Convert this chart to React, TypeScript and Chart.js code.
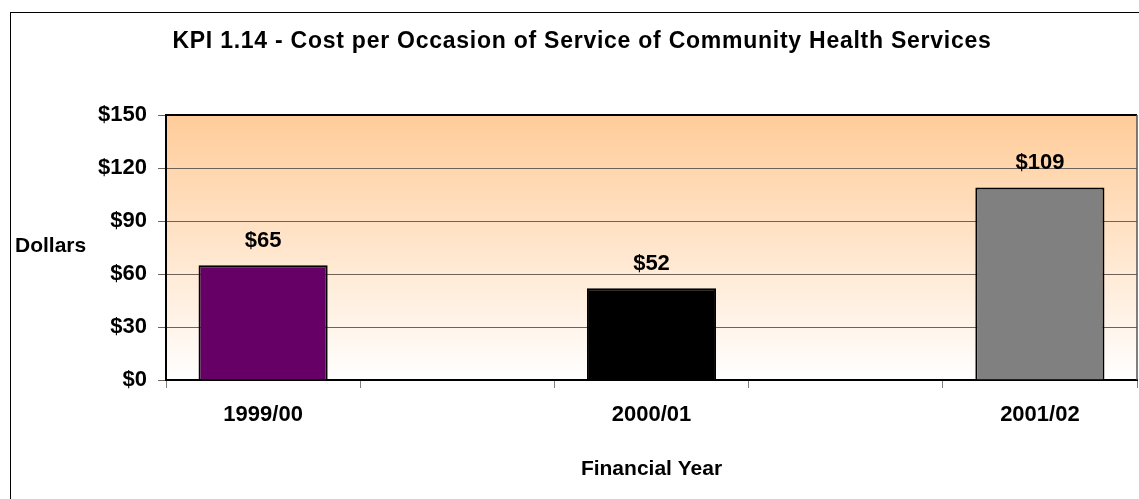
import React, { useEffect, useRef } from "react";
import { Chart, registerables } from "chart.js";

Chart.register(...registerables);

const categories = ["1999/00", "", "2000/01", "", "2001/02"];
const costValues = [65, null, 52, null, 109];
const barColors = ["#660066", "#000000", "#000000", "#000000", "#808080"];
const yTicks = [0, 30, 60, 90, 120, 150];

const TITLE = "KPI 1.14 - Cost per Occasion of Service of Community Health Services";
const FONT = "'Liberation Sans', Arial, sans-serif";

const decorPlugin = {
  id: "decor",
  beforeDraw(chart: any) {
    const { ctx, chartArea } = chart;
    const { left, top, right, bottom } = chartArea;
    ctx.save();
    ctx.fillStyle = "#ffffff";
    ctx.fillRect(0, 0, chart.width, chart.height);
    const g = ctx.createLinearGradient(0, top, 0, bottom);
    g.addColorStop(0, "#ffcc99");
    g.addColorStop(1, "#ffffff");
    ctx.fillStyle = g;
    ctx.fillRect(left, top, right - left, bottom - top);
    ctx.strokeStyle = "#000000";
    ctx.lineWidth = 1;
    ctx.strokeRect(10.5, 12.5, 1400, 800);
    ctx.restore();
  },
  afterDraw(chart: any) {
    const { ctx, chartArea } = chart;
    const { left, top, right, bottom } = chartArea;
    ctx.save();
    ctx.strokeStyle = "#000000";
    ctx.lineWidth = 2;
    ctx.beginPath();
    ctx.moveTo(left, top);
    ctx.lineTo(right, top);
    ctx.stroke();
    ctx.strokeStyle = "#555555";
    ctx.lineWidth = 1.5;
    ctx.beginPath();
    ctx.moveTo(right, top);
    ctx.lineTo(right, bottom);
    ctx.stroke();

    ctx.fillStyle = "#000000";
    ctx.font = `bold 23px ${FONT}`;
    ctx.textAlign = "center";
    ctx.textBaseline = "alphabetic";
    (ctx as any).letterSpacing = "0.75px";
    ctx.fillText(TITLE, 582, 48);
    (ctx as any).letterSpacing = "0px";

    ctx.font = `bold 21px ${FONT}`;
    ctx.textAlign = "left";
    ctx.fillText("Dollars", 15, 252);

    ctx.textAlign = "center";
    ctx.fillText("Financial Year", (left + right) / 2, 475);

    ctx.font = `bold 22px ${FONT}`;
    const meta = chart.getDatasetMeta(0);
    meta.data.forEach((bar: any, i: number) => {
      const v = costValues[i];
      if (v == null) return;
      ctx.fillText("$" + v, bar.x, bar.y - 18);
    });
    ctx.restore();
  },
};

export default function App() {
  const ref = useRef<HTMLCanvasElement | null>(null);
  useEffect(() => {
    if (!ref.current) return;
    const chart = new Chart(ref.current, {
      type: "bar",
      data: {
        labels: categories,
        datasets: [
          {
            data: costValues as any,
            backgroundColor: barColors,
            borderColor: "#000000",
            borderWidth: 2,
            categoryPercentage: 1,
            barPercentage: 0.665,
          },
        ],
      },
      options: {
        responsive: false,
        animation: false,
        layout: { padding: { top: 115, right: 2, left: 0, bottom: 0 } },
        plugins: {
          legend: { display: false },
          title: { display: false },
          tooltip: { enabled: false },
        },
        scales: {
          x: {
            offset: true,
            grid: {
              offset: true,
              drawOnChartArea: false,
              drawTicks: true,
              tickLength: 8,
              color: "#808080",
            },
            border: { color: "#000000", width: 2 },
            ticks: {
              color: "#000000",
              font: { family: FONT, size: 22, weight: "bold" },
              padding: 14,
              maxRotation: 0,
              autoSkip: false,
            },
            afterFit(scale: any) {
              scale.height = 119;
            },
          },
          y: {
            min: 0,
            max: 150,
            afterBuildTicks(scale: any) {
              scale.ticks = yTicks.map((v) => ({ value: v }));
            },
            grid: {
              color: "#6e6258",
              tickLength: 8,
              lineWidth: 1,
            },
            border: { color: "#000000", width: 2 },
            ticks: {
              color: "#000000",
              font: { family: FONT, size: 22, weight: "bold" },
              padding: 11,
              callback: (v: any) => "$" + v,
            },
            afterFit(scale: any) {
              scale.width = 166;
            },
          },
        },
      },
      plugins: [decorPlugin],
    });
    return () => chart.destroy();
  }, []);

  return (
    <div style={{ position: "absolute", left: 0, top: 0, width: 1139, height: 499 }}>
      <canvas ref={ref} width={1139} height={499} style={{ display: "block" }} />
    </div>
  );
}
